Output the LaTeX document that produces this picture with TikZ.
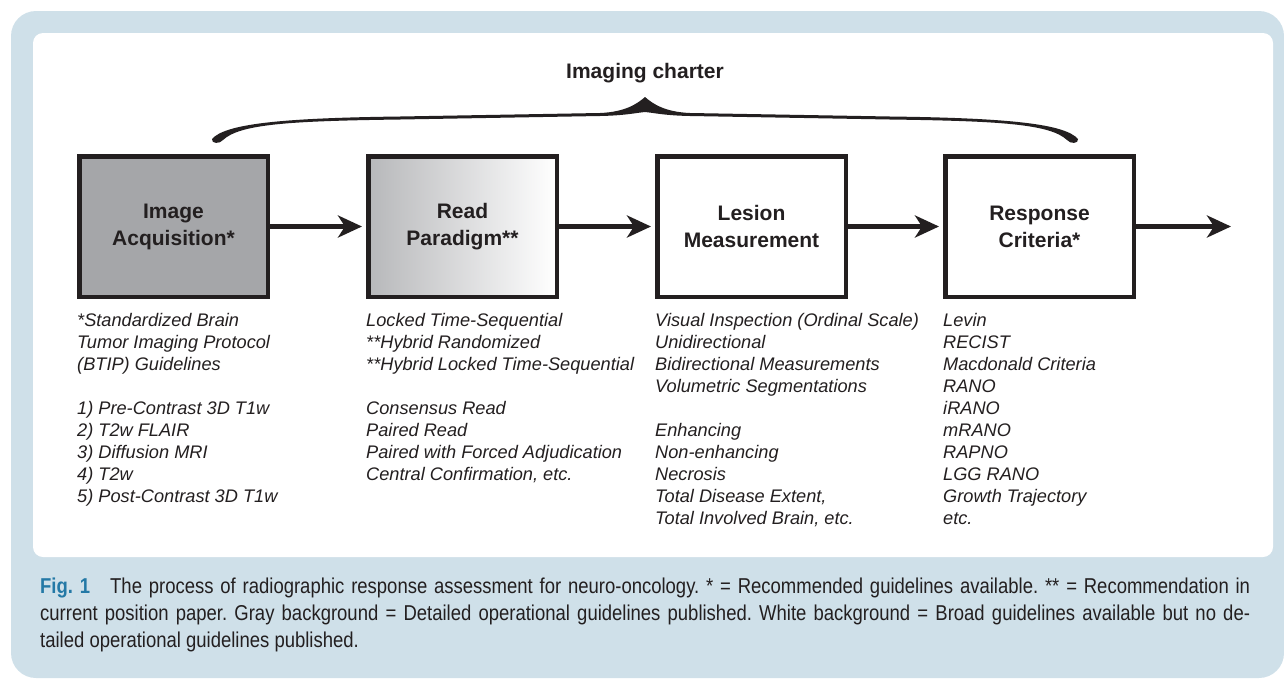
\documentclass[tikz,border=0pt]{standalone}
\usepackage{fontspec}
\setmainfont{Liberation Sans}
\newfontfamily\capfont[FakeStretch=0.86]{Liberation Sans}
\usepackage{xcolor}
\usetikzlibrary{arrows.meta,positioning,calc}
\definecolor{panelblue}{HTML}{CFE0E9}
\definecolor{ink}{HTML}{231F20}
\definecolor{boxgray}{HTML}{A5A6A9}
\definecolor{figblue}{HTML}{2479A6}

\tikzset{
  stage/.style={draw=ink, line width=4.5pt, minimum width=188.5pt, minimum height=140.5pt,
    inner sep=0pt, align=center, text=ink, font=\fontsize{21}{27}\selectfont\bfseries},
  note/.style={anchor=north west, inner sep=0pt, align=left, text=ink,
    font=\fontsize{18.2}{22}\selectfont\itshape},
  flow/.style={draw=ink, line width=5pt, -{Stealth[length=24pt,width=22pt,inset=7pt]}, shorten >=4pt}
}

\begin{document}
\begin{tikzpicture}[x=1pt,y=-1pt]
\useasboundingbox (0,0) rectangle (1284,678);
\fill[panelblue, rounded corners=25pt] (11,11) rectangle (1284,678);
\fill[white, rounded corners=10pt] (33,33) rectangle (1273,557);

% process stages
\node[stage, fill=boxgray] (acq) at (173.5,226.5) {Image\\Acquisition*};
\node[stage, left color=boxgray!80, right color=white, right=96pt of acq] (read) {Read\\Paradigm**};
\node[stage, fill=white, right=96pt of read] (lesion) {Lesion\\Measurement};
\node[stage, fill=white, right=95pt of lesion] (resp) {Response\\Criteria*};
\coordinate[right=99pt of resp] (out);

\draw[flow] (acq) -- (read);
\draw[flow] (read) -- (lesion);
\draw[flow] (lesion) -- (resp);
\draw[flow] (resp) -- (out);

% imaging charter brace
\coordinate (cusp) at (645,97);
\fill[ink] (212,139) .. controls (225,124) and (280,118) .. (400,116.5)
  -- (600,113) .. controls (625,112) and (637,104) .. (cusp)
  .. controls (653,104) and (665,112) .. (690,113)
  -- (890,116.5) .. controls (1010,118) and (1065,124) .. (1078,139)
  .. controls (1079,144) and (1070,144) .. (1067,140)
  .. controls (1050,124) and (1000,121) .. (890,119.5)
  -- (690,116) .. controls (665,115.5) and (655,113) .. (645,112)
  .. controls (635,113) and (625,115.5) .. (600,116)
  -- (400,119.5) .. controls (290,121) and (240,124) .. (223,140)
  .. controls (220,144) and (211,144) .. (212,139) -- cycle;
\node[inner sep=0pt, text=ink, font=\fontsize{21}{27}\selectfont\bfseries, above=14pt of cusp] (charter) {Imaging charter};

% details under each stage
\node[note] (acqlist) at ([yshift=-14pt]acq.south west) {*Standardized Brain\\Tumor Imaging Protocol\\(BTIP) Guidelines\\[22pt]
1) Pre-Contrast 3D T1w\\2) T2w FLAIR\\3) Diffusion MRI\\4) T2w\\5) Post-Contrast 3D T1w};
\node[note] (readlist) at ([yshift=-14pt]read.south west) {Locked Time-Sequential\\**Hybrid Randomized\\**Hybrid Locked Time-Sequential\\[22pt]
Consensus Read\\Paired Read\\Paired with Forced Adjudication\\Central Confirmation, etc.};
\node[note] (lesionlist) at ([yshift=-14pt]lesion.south west) {Visual Inspection (Ordinal Scale)\\Unidirectional\\Bidirectional Measurements\\Volumetric Segmentations\\[22pt]
Enhancing\\Non-enhancing\\Necrosis\\Total Disease Extent,\\Total Involved Brain, etc.};
\node[note] (resplist) at ([yshift=-14pt]resp.south west) {Levin\\RECIST\\Macdonald Criteria\\RANO\\iRANO\\mRANO\\RAPNO\\LGG RANO\\Growth Trajectory\\etc.};

% caption
\node[anchor=north west, inner sep=0pt, text width=1210pt, align=justify, text=ink,
  font=\capfont\fontsize{21.5}{27}\selectfont] (caption) at (40,578)
  {\frenchspacing\tolerance=9999 \textcolor{figblue}{\bfseries Fig.~1}\hspace{20pt}The process of radiographic response assessment for neuro-oncology. * = Recommended guidelines available. ** = Recommendation in\linebreak
  current position paper. Gray background = Detailed operational guidelines published. White background = Broad guidelines available but no de-\linebreak
  tailed operational guidelines published.};
\end{tikzpicture}
\end{document}
